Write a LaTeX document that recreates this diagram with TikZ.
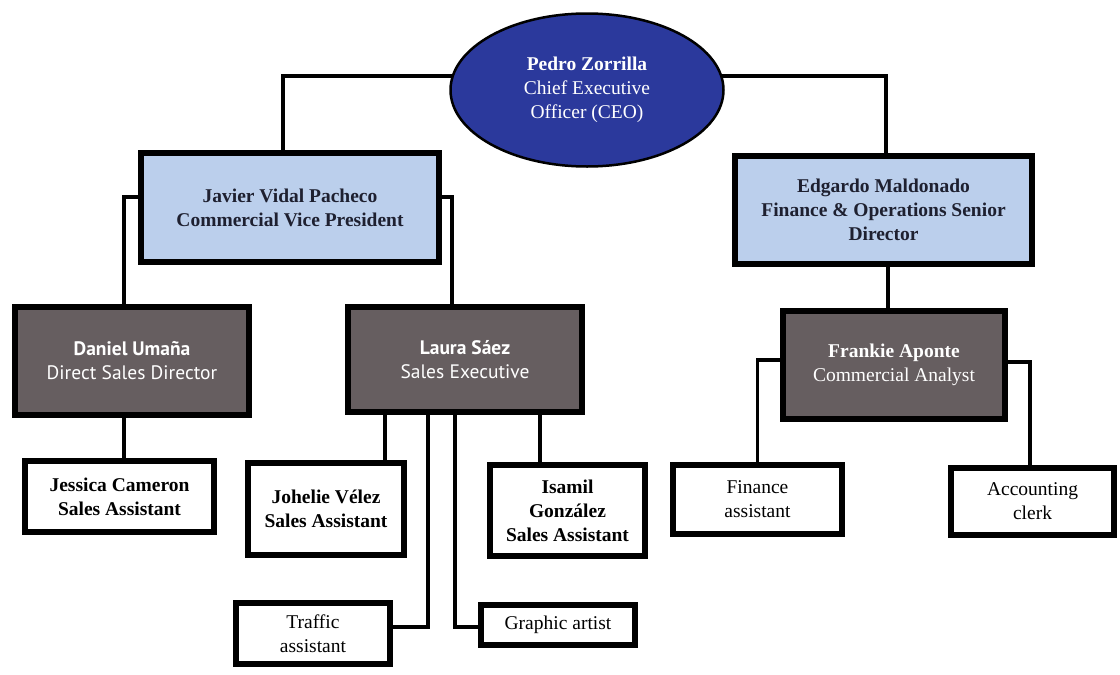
\documentclass[tikz,border=0pt]{standalone}
\usepackage{fontspec}
\setmainfont{Liberation Serif}
\newfontfamily\gillfont{PT Sans}
\usetikzlibrary{shapes.geometric}
\definecolor{ceoblue}{RGB}{43,57,156}
\definecolor{paleblue}{RGB}{187,207,236}
\definecolor{mgray}{RGB}{102,94,96}
\definecolor{navytext}{RGB}{30,32,48}
\begin{document}
\begin{tikzpicture}[x=1pt,y=-1pt,
  every node/.style={align=center, inner sep=0pt, font=\fontsize{19.5}{24}\selectfont},
  box/.style={draw=black, line width=6pt, rectangle, fill=white},
  bluebox/.style={box, fill=paleblue, text=navytext},
  graybox/.style={box, fill=mgray, text=white},
  conn/.style={draw=black, line width=3.5pt}]
\useasboundingbox (0,0) rectangle (1120,675);

% CEO
\node[ellipse, draw=black, line width=2.5pt, fill=ceoblue, text=white,
      minimum width=273pt, minimum height=153pt] (ceo) at (587,90)
  {\textbf{Pedro Zorrilla}\\Chief Executive\\Officer (CEO)};

% second level
\node[bluebox, minimum width=298pt, minimum height=109pt] (javier) at (290,207.5)
  {\textbf{Javier Vidal Pacheco}\\\textbf{Commercial Vice President}};
\node[bluebox, minimum width=297pt, minimum height=108pt] (edgardo) at (883.5,210)
  {\textbf{Edgardo Maldonado}\\\textbf{Finance \& Operations Senior}\\\textbf{Director}};

% third level
\node[graybox, minimum width=234pt, minimum height=108pt, font=\gillfont\fontsize{19.5}{24}\selectfont] (daniel) at (132,361)
  {\textbf{Daniel Umaña}\\Direct Sales Director};
\node[graybox, minimum width=234pt, minimum height=105pt, font=\gillfont\fontsize{19.5}{24}\selectfont] (laura) at (465,359.5)
  {\textbf{Laura Sáez}\\Sales Executive};
\node[graybox, minimum width=222pt, minimum height=108pt] (frankie) at (894,365)
  {\textbf{Frankie Aponte}\\Commercial Analyst};

% fourth level
\node[box, minimum width=189pt, minimum height=71pt] (jessica) at (119.5,496.5)
  {\textbf{Jessica Cameron}\\\textbf{Sales Assistant}};
\node[box, minimum width=156pt, minimum height=92pt] (johelie) at (326,509)
  {\textbf{Johelie Vélez}\\\textbf{Sales Assistant}};
\node[box, minimum width=155pt, minimum height=91pt] (isamil) at (567.5,510.5)
  {\textbf{Isamil}\\\textbf{González}\\\textbf{Sales Assistant}};
\node[box, minimum width=169pt, minimum height=69pt] (finance) at (757.5,499.5)
  {Finance\\assistant};
\node[box, minimum width=163pt, minimum height=67pt] (accounting) at (1032.5,501.5)
  {Accounting\\clerk};
\node[box, minimum width=154pt, minimum height=61pt] (traffic) at (313,633.5)
  {Traffic\\assistant};
\node[box, minimum width=154pt, minimum height=40pt] (graphic) at (558,625)
  {Graphic artist};

% connectors
\draw[conn] (ceo.174) -| ([xshift=-7pt]javier.north);
\draw[conn] (ceo.6) -| ([xshift=2.5pt]edgardo.north);
\draw[conn] ([yshift=10.5pt]javier.west) -| ([xshift=-8pt]daniel.north);
\draw[conn] ([yshift=10.5pt]javier.east) -| ([xshift=-13pt]laura.north);
\draw[conn] ([xshift=4.5pt]edgardo.south) -- ([xshift=4.5pt]edgardo.south |- frankie.north);
\draw[conn] ([xshift=-8pt]daniel.south) -- ([xshift=-8pt]daniel.south |- jessica.north);
\draw[conn] ([xshift=-80pt]laura.south) -- ([xshift=-80pt]laura.south |- johelie.north);
\draw[conn] ([xshift=75pt]laura.south) -- ([xshift=75pt]laura.south |- isamil.north);
\draw[conn] ([xshift=-37pt]laura.south) |- ([yshift=6.5pt]traffic.east);
\draw[conn] ([xshift=-10pt]laura.south) |- ([yshift=-2pt]graphic.west);
\draw[conn] ([yshift=5pt]frankie.west) -| (finance.north);
\draw[conn] ([yshift=3pt]frankie.east) -| ([xshift=-2.5pt]accounting.north);
\end{tikzpicture}
\end{document}
